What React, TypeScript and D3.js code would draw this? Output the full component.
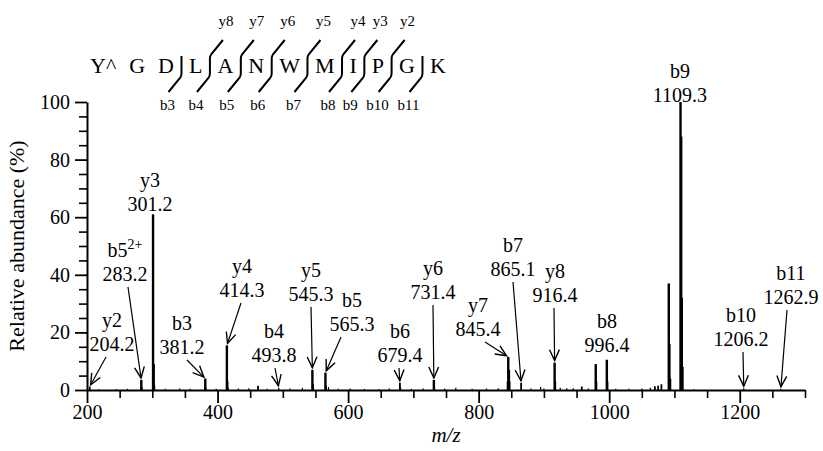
import React, { useEffect, useRef } from "react";
import * as d3 from "d3";

const WIDTH = 823;
const HEIGHT = 451;

// MS/MS spectrum: m/z and relative abundance (%)
const peakMz = [
  204.2, 218, 245, 262, 283.2, 284.2, 301.2, 302.2, 303.2, 320, 342, 358,
  381.2, 382.2, 398, 414.3, 415.3, 416.3, 432, 448, 462, 476, 493.8, 511,
  530, 545.3, 546.3, 565.3, 566.3, 570, 585, 603, 625, 648, 663, 679.4,
  680.4, 697, 715, 731.4, 732.4, 748, 765, 790, 812, 830, 844.4, 845.4,
  846.4, 847.4, 865.1, 880, 895, 900, 916.4, 917.4, 925, 935, 945, 958,
  968, 979.4, 980.4, 996.4, 997.4, 1010, 1030, 1050, 1063, 1070, 1075,
  1080, 1091.3, 1092.3, 1093.3, 1109.3, 1110.3, 1111.3, 1112.3, 1130,
  1206.2, 1262.9
];
const peakAbundance = [
  1.2, 0.3, 0.3, 0.4, 3.5, 1, 61, 9, 1.5, 0.4, 0.5, 0.4,
  4, 0.8, 0.4, 15.5, 3, 0.8, 0.5, 0.6, 1.5, 0.4, 0.8, 0.5,
  0.8, 7, 2, 6, 1.5, 1, 0.4, 0.5, 0.4, 0.3, 0.5, 2.5,
  0.8, 0.4, 0.5, 3.5, 1, 0.5, 0.8, 0.4, 0.5, 0.6, 3, 11.5,
  7, 3, 2.5, 0.5, 1, 0.5, 9.5, 3, 0.8, 0.6, 0.6, 1.2,
  0.5, 9, 3, 10.5, 3, 0.4, 0.4, 0.5, 0.8, 1.3, 1.5,
  2, 37, 16, 4, 100, 88, 32, 8, 0.3,
  0.6, 0.4
];

// annotated fragment ions
const ionNames = ["y2", "b5", "y3", "b3", "y4", "b4", "y5", "b5", "b6", "y6", "y7", "b7", "y8", "b8", "b9", "b10", "b11"];
const ionCharges = ["", "2+", "", "", "", "", "", "", "", "", "", "", "", "", "", "", ""];
const ionMz = [204.2, 283.2, 301.2, 381.2, 414.3, 493.8, 545.3, 565.3, 679.4, 731.4, 845.4, 865.1, 916.4, 996.4, 1109.3, 1206.2, 1262.9];
const ionAbundance = [1.2, 3.5, 61, 4, 15.5, 0.8, 7, 6, 2.5, 3.5, 11.5, 2.5, 9.5, 10.5, 100, 0.6, 0.4];

// label placement: [centre x, baseline of ion name, arrow tail dx (null = no arrow)]
const labelLayout: [number, number, number | null][] = [
  [112, 327, -6], [125, 257, 3], [150, 187, null], [182, 330, 5],
  [242, 273, -1], [274, 338, 1], [311, 277, 0], [352, 307, -11],
  [400, 338, -1], [433, 275, 0], [478, 312, 7], [513, 252, 0],
  [555, 278, -1], [607, 328, null], [680, 78, null], [741, 322, 2],
  [791, 280, -4]
];

// peptide sequence and cleavage sites (after residue i)
const residues = ["Y^", "G", "D", "L", "A", "N", "W", "M", "I", "P", "G", "K"];
const bCuts = ["", "", "b3", "b4", "b5", "b6", "b7", "b8", "b9", "b10", "b11"];
const yCuts = ["", "", "", "y8", "y7", "y6", "y5", "y4", "y3", "y2", ""];

const xTicks = [200, 400, 600, 800, 1000, 1200];
const yTicks = [0, 20, 40, 60, 80, 100];

const FONT = "'Liberation Serif', 'Times New Roman', serif";

export default function App() {
  const svgRef = useRef<SVGSVGElement | null>(null);

  useEffect(() => {
    document.body.style.margin = "0";
    const svg = d3.select(svgRef.current);
    svg.selectAll("*").remove();

    const x = d3.scaleLinear().domain([200, 1300]).range([87, 805]);
    const y = d3.scaleLinear().domain([0, 100]).range([390, 102]);

    svg.append("rect").attr("width", WIDTH).attr("height", HEIGHT).attr("fill", "#fff");

    // minor ticks
    const minorX = d3.range(200, 1301, 50).filter((v) => v % 200 !== 0);
    svg.append("g")
      .attr("transform", `translate(0,${y(0)})`)
      .call(d3.axisBottom(x).tickValues(minorX).tickSize(8).tickSizeOuter(0).tickFormat(() => ""))
      .call((g) => g.selectAll("line").attr("stroke-width", 1.6))
      .call((g) => g.select(".domain").remove());

    const minorY = d3.range(0, 101, 5).filter((v) => v % 20 !== 0);
    svg.append("g")
      .attr("transform", `translate(${x(200)},0)`)
      .call(d3.axisLeft(y).tickValues(minorY).tickSize(8).tickSizeOuter(0).tickFormat(() => ""))
      .call((g) => g.selectAll("line").attr("stroke-width", 1.6))
      .call((g) => g.select(".domain").remove());

    // major axes
    svg.append("g")
      .attr("transform", `translate(0,${y(0)})`)
      .call(d3.axisBottom(x).tickValues(xTicks).tickSize(13).tickSizeOuter(0).tickPadding(2).tickFormat(d3.format("d")))
      .call((g) => g.selectAll("line").attr("stroke-width", 1.8))
      .call((g) => g.select(".domain").attr("stroke-width", 2))
      .call((g) => g.selectAll("text").attr("font-family", FONT).attr("font-size", 20).attr("fill", "#000"));

    svg.append("g")
      .attr("transform", `translate(${x(200)},0)`)
      .call(d3.axisLeft(y).tickValues(yTicks).tickSize(12).tickSizeOuter(0).tickPadding(5))
      .call((g) => g.selectAll("line").attr("stroke-width", 1.8))
      .call((g) => g.select(".domain").attr("stroke-width", 2))
      .call((g) => g.selectAll("text").attr("font-family", FONT).attr("font-size", 20).attr("fill", "#000"));

    // axis titles
    svg.append("text")
      .attr("transform", `translate(24,${(y(0) + y(100)) / 2}) rotate(-90)`)
      .attr("text-anchor", "middle")
      .attr("font-family", FONT)
      .attr("font-size", 22)
      .text("Relative abundance (%)");

    svg.append("text")
      .attr("x", (x(200) + x(1300)) / 2)
      .attr("y", 442)
      .attr("text-anchor", "middle")
      .attr("font-family", FONT)
      .attr("font-style", "italic")
      .attr("font-size", 21)
      .text("m/z");

    // peaks
    const peaks = peakMz.map((mz, i) => ({ mz, ab: peakAbundance[i] }));
    svg.append("g")
      .selectAll("line")
      .data(peaks)
      .join("line")
      .attr("x1", (d) => x(d.mz))
      .attr("x2", (d) => x(d.mz))
      .attr("y1", y(0))
      .attr("y2", (d) => y(d.ab))
      .attr("stroke", "#000")
      .attr("stroke-width", (d) => (d.ab > 3 ? 2.4 : d.ab > 1 ? 1.8 : 1.2));

    // ion annotations
    const ann = svg.append("g").attr("font-family", FONT).attr("font-size", 20);
    const arrowHead = (x0: number, y0: number, x1: number, y1: number) => {
      const a = Math.atan2(y1 - y0, x1 - x0);
      const len = 12;
      const s = 0.42;
      const p1 = [x1 - len * Math.cos(a - s), y1 - len * Math.sin(a - s)];
      const p2 = [x1 - len * Math.cos(a + s), y1 - len * Math.sin(a + s)];
      return `M${p1[0]},${p1[1]}L${x1},${y1}L${p2[0]},${p2[1]}`;
    };

    ionNames.forEach((name, i) => {
      const [cx, by, tailDx] = labelLayout[i];
      const t = ann.append("text").attr("x", cx).attr("y", by).attr("text-anchor", "middle");
      t.append("tspan").text(name);
      if (ionCharges[i]) {
        t.append("tspan").attr("font-size", 14).attr("dy", -8).text(ionCharges[i]);
      }
      ann.append("text")
        .attr("x", cx)
        .attr("y", by + 24)
        .attr("text-anchor", "middle")
        .text(ionMz[i].toFixed(1));

      if (tailDx !== null) {
        const x0 = cx + tailDx;
        const y0 = by + 30;
        const px = x(ionMz[i]);
        const py = y(ionAbundance[i]);
        const a = Math.atan2(py - y0, px - x0);
        const x1 = px - 2 * Math.cos(a);
        const y1 = py - 2 * Math.sin(a);
        ann.append("path")
          .attr("d", `M${x0},${y0}L${x1},${y1}`)
          .attr("stroke", "#000")
          .attr("stroke-width", 1.2)
          .attr("fill", "none");
        ann.append("path")
          .attr("d", arrowHead(x0, y0, x1, y1))
          .attr("stroke", "#000")
          .attr("stroke-width", 1.4)
          .attr("fill", "none");
      }
    });

    // peptide sequence with fragmentation marks
    const seqSize = 22;
    const ctx = document.createElement("canvas").getContext("2d");
    if (ctx) ctx.font = `${seqSize}px ${FONT}`;
    const measure = (s: string) => (ctx ? ctx.measureText(s).width : s.length * 14);

    const seq = svg.append("g").attr("font-family", FONT);
    const baseline = 73;
    let cursor = 90;
    residues.forEach((res, i) => {
      seq.append("text")
        .attr("x", cursor)
        .attr("y", baseline)
        .attr("font-size", seqSize)
        .text(res);
      cursor += measure(res);
      if (i >= residues.length - 1) return;
      const b = bCuts[i];
      const yy = yCuts[i];
      if (!b && !yy) {
        cursor += 13;
        return;
      }
      cursor += 7.5;
      const mx = cursor;
      let d = "";
      if (yy) {
        d += `M${mx + 13},40L${mx + 1.5},54Q${mx},56 ${mx},58.5`;
      } else {
        d += `M${mx},56`;
      }
      d += `L${mx},73.5Q${mx},76 ${mx - 1.5},78L${mx - 13},92`;
      seq.append("path")
        .attr("d", d)
        .attr("stroke", "#000")
        .attr("stroke-width", 2)
        .attr("fill", "none");
      if (yy) {
        seq.append("text")
          .attr("x", mx + 16)
          .attr("y", 26)
          .attr("text-anchor", "middle")
          .attr("font-size", 15)
          .text(yy);
      }
      if (b) {
        seq.append("text")
          .attr("x", mx - 14)
          .attr("y", 110)
          .attr("text-anchor", "middle")
          .attr("font-size", 15)
          .text(b);
      }
      cursor += 7.5;
    });
  }, []);

  return <svg ref={svgRef} width={WIDTH} height={HEIGHT} style={{ display: "block" }} />;
}
